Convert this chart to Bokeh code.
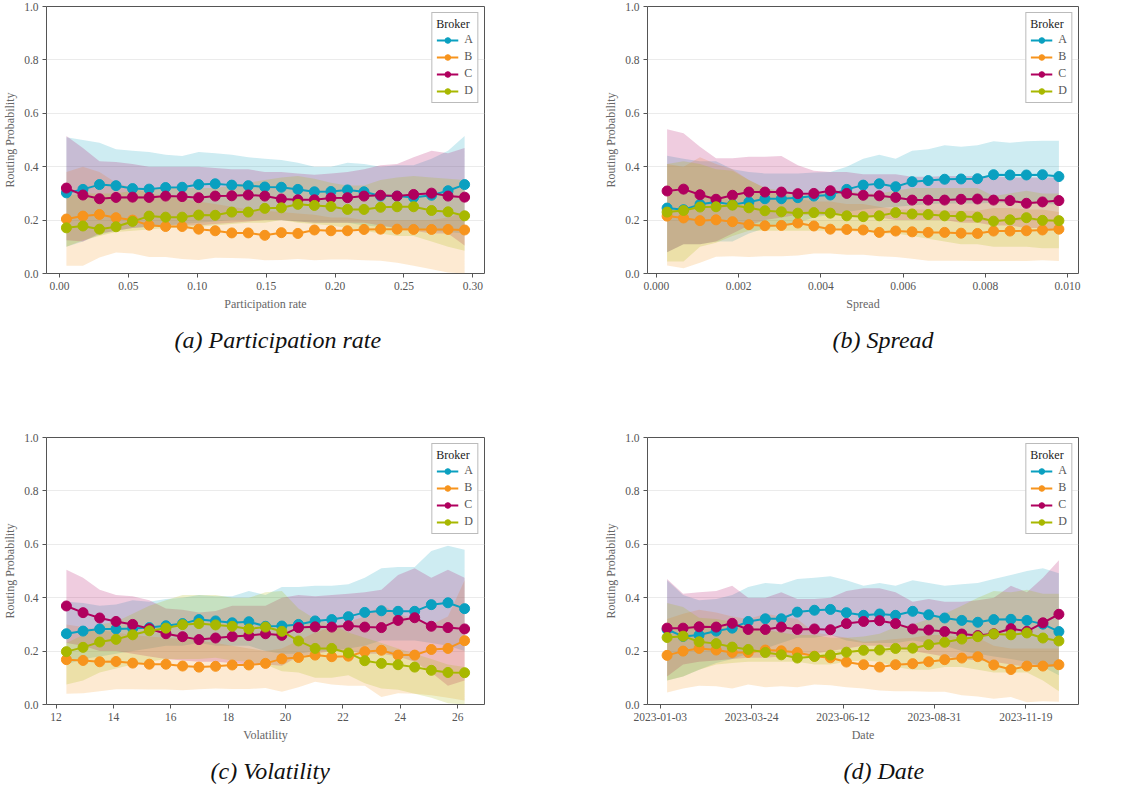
import pandas as pd
from bokeh.plotting import figure
from bokeh.layouts import column, row
from bokeh.models import FixedTicker, PrintfTickFormatter, DatetimeTickFormatter, Range1d
from bokeh.embed import file_html
from bokeh.resources import INLINE

brokers = ["A", "B", "C", "D"]
colors = {"A": "#0aa0c0", "B": "#f7941d", "C": "#b0005e", "D": "#a8b800"}
y_ticks = [0.0, 0.2, 0.4, 0.6, 0.8, 1.0]

# ---------------- (a) Participation rate ----------------
part_x = [0.005, 0.017, 0.029, 0.041, 0.053, 0.065, 0.077, 0.089, 0.101, 0.113, 0.125, 0.137,
          0.149, 0.161, 0.173, 0.185, 0.197, 0.209, 0.221, 0.233, 0.245, 0.257, 0.270, 0.282, 0.294]
part_A = [0.302, 0.315, 0.333, 0.329, 0.318, 0.316, 0.322, 0.323, 0.333, 0.336, 0.331, 0.329,
          0.324, 0.323, 0.315, 0.306, 0.307, 0.313, 0.306, 0.290, 0.290, 0.285, 0.293, 0.310, 0.333]
part_B = [0.204, 0.215, 0.221, 0.209, 0.200, 0.181, 0.176, 0.176, 0.166, 0.160, 0.152, 0.152,
          0.143, 0.153, 0.150, 0.163, 0.160, 0.160, 0.165, 0.166, 0.166, 0.165, 0.165, 0.165, 0.163]
part_C = [0.320, 0.294, 0.280, 0.285, 0.286, 0.285, 0.290, 0.288, 0.284, 0.290, 0.291, 0.294,
          0.290, 0.279, 0.276, 0.276, 0.283, 0.284, 0.290, 0.293, 0.290, 0.296, 0.301, 0.290, 0.286]
part_D = [0.171, 0.178, 0.166, 0.175, 0.195, 0.215, 0.211, 0.211, 0.219, 0.218, 0.230, 0.230,
          0.244, 0.246, 0.259, 0.255, 0.251, 0.240, 0.240, 0.248, 0.250, 0.250, 0.236, 0.231, 0.216]
part_A_hi = [0.510, 0.500, 0.490, 0.465, 0.460, 0.455, 0.445, 0.440, 0.455, 0.450, 0.445, 0.435,
             0.430, 0.425, 0.415, 0.400, 0.400, 0.415, 0.410, 0.400, 0.405, 0.405, 0.430, 0.460, 0.515]
part_A_lo = [0.100, 0.120, 0.145, 0.160, 0.170, 0.175, 0.180, 0.185, 0.190, 0.195, 0.200, 0.200,
             0.200, 0.200, 0.195, 0.190, 0.190, 0.190, 0.180, 0.175, 0.170, 0.165, 0.160, 0.155, 0.150]
part_B_hi = [0.380, 0.400, 0.380, 0.340, 0.320, 0.300, 0.290, 0.280, 0.270, 0.260, 0.250, 0.240,
             0.235, 0.230, 0.225, 0.220, 0.210, 0.210, 0.200, 0.200, 0.200, 0.200, 0.200, 0.210, 0.230]
part_B_lo = [0.029, 0.029, 0.060, 0.079, 0.075, 0.062, 0.062, 0.054, 0.051, 0.059, 0.058, 0.056,
             0.050, 0.051, 0.054, 0.050, 0.052, 0.052, 0.050, 0.048, 0.040, 0.029, 0.016, 0.004, 0.000]
part_C_hi = [0.515, 0.470, 0.420, 0.418, 0.410, 0.400, 0.400, 0.400, 0.400, 0.395, 0.390, 0.390,
             0.380, 0.380, 0.375, 0.370, 0.375, 0.380, 0.390, 0.405, 0.410, 0.435, 0.460, 0.450, 0.470]
part_C_lo = [0.125, 0.120, 0.150, 0.160, 0.170, 0.175, 0.180, 0.180, 0.180, 0.185, 0.190, 0.195,
             0.200, 0.200, 0.195, 0.190, 0.190, 0.190, 0.190, 0.180, 0.170, 0.160, 0.150, 0.150, 0.105]
part_D_hi = [0.290, 0.300, 0.300, 0.300, 0.310, 0.320, 0.320, 0.320, 0.320, 0.320, 0.330, 0.340,
             0.350, 0.360, 0.365, 0.355, 0.340, 0.330, 0.330, 0.350, 0.360, 0.365, 0.360, 0.355, 0.350]
part_D_lo = [0.100, 0.125, 0.140, 0.155, 0.160, 0.165, 0.170, 0.170, 0.175, 0.180, 0.185, 0.190,
             0.190, 0.200, 0.190, 0.185, 0.180, 0.170, 0.160, 0.150, 0.140, 0.140, 0.120, 0.100, 0.085]
part_ticks = [0.0, 0.05, 0.10, 0.15, 0.20, 0.25, 0.30]

# ---------------- (b) Spread ----------------
spread_x = [0.00026, 0.00066, 0.00106, 0.00145, 0.00185, 0.00225, 0.00264, 0.00304, 0.00344,
            0.00383, 0.00423, 0.00463, 0.00503, 0.00542, 0.00582, 0.00622, 0.00661, 0.00701,
            0.00741, 0.00781, 0.00820, 0.00860, 0.00900, 0.00939, 0.00979]
spread_A = [0.245, 0.239, 0.259, 0.268, 0.258, 0.268, 0.280, 0.280, 0.284, 0.290, 0.294, 0.315,
            0.331, 0.336, 0.325, 0.344, 0.348, 0.353, 0.354, 0.355, 0.370, 0.369, 0.369, 0.370, 0.363]
spread_B = [0.215, 0.208, 0.198, 0.201, 0.194, 0.183, 0.179, 0.180, 0.189, 0.178, 0.166, 0.165,
            0.163, 0.154, 0.159, 0.156, 0.154, 0.154, 0.151, 0.150, 0.159, 0.159, 0.160, 0.163, 0.166]
spread_C = [0.309, 0.316, 0.295, 0.278, 0.293, 0.305, 0.305, 0.305, 0.299, 0.300, 0.310, 0.300,
            0.293, 0.291, 0.285, 0.275, 0.275, 0.275, 0.278, 0.279, 0.275, 0.273, 0.263, 0.268, 0.273]
spread_D = [0.230, 0.236, 0.249, 0.250, 0.256, 0.246, 0.235, 0.231, 0.226, 0.228, 0.226, 0.216,
            0.213, 0.216, 0.228, 0.223, 0.221, 0.216, 0.214, 0.211, 0.196, 0.201, 0.209, 0.199, 0.198]
spread_A_hi = [0.441, 0.430, 0.420, 0.420, 0.390, 0.380, 0.375, 0.375, 0.375, 0.378, 0.380, 0.400,
               0.430, 0.445, 0.430, 0.460, 0.465, 0.480, 0.475, 0.480, 0.495, 0.490, 0.495, 0.497, 0.497]
spread_A_lo = [0.080, 0.110, 0.110, 0.120, 0.120, 0.150, 0.170, 0.180, 0.190, 0.210, 0.220, 0.230,
               0.240, 0.245, 0.250, 0.255, 0.260, 0.262, 0.262, 0.262, 0.265, 0.265, 0.262, 0.260, 0.258]
spread_B_hi = [0.410, 0.400, 0.435, 0.410, 0.390, 0.350, 0.320, 0.300, 0.280, 0.270, 0.270, 0.260,
               0.260, 0.250, 0.240, 0.240, 0.240, 0.235, 0.235, 0.235, 0.245, 0.245, 0.240, 0.240, 0.230]
spread_B_lo = [0.030, 0.020, 0.040, 0.063, 0.065, 0.062, 0.065, 0.065, 0.067, 0.075, 0.075, 0.070,
               0.070, 0.065, 0.062, 0.055, 0.048, 0.048, 0.048, 0.047, 0.047, 0.047, 0.047, 0.050, 0.047]
spread_C_hi = [0.540, 0.525, 0.475, 0.432, 0.432, 0.437, 0.437, 0.440, 0.405, 0.385, 0.380, 0.380,
               0.372, 0.372, 0.372, 0.362, 0.362, 0.365, 0.365, 0.365, 0.365, 0.360, 0.360, 0.360, 0.360]
spread_C_lo = [0.080, 0.110, 0.110, 0.120, 0.150, 0.180, 0.200, 0.210, 0.220, 0.220, 0.220, 0.220,
               0.210, 0.210, 0.200, 0.200, 0.200, 0.200, 0.190, 0.190, 0.180, 0.180, 0.170, 0.170, 0.160]
spread_D_hi = [0.410, 0.420, 0.410, 0.390, 0.385, 0.350, 0.320, 0.310, 0.300, 0.300, 0.310, 0.310,
               0.300, 0.300, 0.310, 0.320, 0.320, 0.320, 0.320, 0.320, 0.290, 0.300, 0.310, 0.300, 0.300]
spread_D_lo = [0.045, 0.045, 0.100, 0.115, 0.140, 0.160, 0.160, 0.160, 0.160, 0.160, 0.160, 0.160,
               0.155, 0.150, 0.150, 0.140, 0.130, 0.120, 0.110, 0.110, 0.100, 0.100, 0.100, 0.095, 0.095]
spread_ticks = [0.000, 0.002, 0.004, 0.006, 0.008, 0.010]

# ---------------- (c) Volatility ----------------
vol_x = [12.36, 12.94, 13.52, 14.09, 14.67, 15.25, 15.83, 16.41, 16.98, 17.56, 18.14, 18.72,
         19.30, 19.87, 20.45, 21.03, 21.61, 22.19, 22.76, 23.34, 23.92, 24.50, 25.08, 25.66, 26.24]
vol_A = [0.265, 0.275, 0.283, 0.283, 0.285, 0.288, 0.295, 0.303, 0.318, 0.313, 0.306, 0.310,
         0.293, 0.294, 0.300, 0.313, 0.318, 0.329, 0.345, 0.351, 0.349, 0.349, 0.374, 0.381, 0.359]
vol_B = [0.168, 0.165, 0.160, 0.161, 0.155, 0.151, 0.151, 0.144, 0.140, 0.143, 0.148, 0.148,
         0.154, 0.171, 0.176, 0.185, 0.179, 0.181, 0.198, 0.203, 0.185, 0.185, 0.206, 0.210, 0.239]
vol_C = [0.369, 0.344, 0.324, 0.311, 0.300, 0.284, 0.265, 0.254, 0.243, 0.249, 0.255, 0.258,
         0.265, 0.259, 0.288, 0.291, 0.290, 0.295, 0.290, 0.288, 0.315, 0.325, 0.293, 0.288, 0.283]
vol_D = [0.198, 0.214, 0.234, 0.244, 0.261, 0.276, 0.286, 0.299, 0.303, 0.298, 0.293, 0.283,
         0.290, 0.274, 0.238, 0.210, 0.210, 0.193, 0.164, 0.154, 0.149, 0.140, 0.128, 0.120, 0.119]
vol_A_hi = [0.385, 0.380, 0.370, 0.375, 0.390, 0.385, 0.395, 0.400, 0.410, 0.405, 0.405, 0.425,
            0.410, 0.440, 0.440, 0.445, 0.445, 0.450, 0.475, 0.510, 0.515, 0.515, 0.575, 0.595, 0.580]
vol_A_lo = [0.150, 0.170, 0.180, 0.190, 0.200, 0.210, 0.220, 0.220, 0.230, 0.220, 0.220, 0.220,
            0.200, 0.190, 0.190, 0.200, 0.200, 0.210, 0.220, 0.240, 0.240, 0.240, 0.230, 0.220, 0.200]
vol_B_hi = [0.300, 0.290, 0.280, 0.270, 0.260, 0.255, 0.250, 0.245, 0.240, 0.230, 0.220, 0.210,
            0.200, 0.210, 0.240, 0.270, 0.290, 0.310, 0.330, 0.375, 0.340, 0.320, 0.300, 0.330, 0.465]
vol_B_lo = [0.040, 0.042, 0.050, 0.057, 0.057, 0.056, 0.056, 0.053, 0.057, 0.060, 0.058, 0.058,
            0.062, 0.048, 0.065, 0.085, 0.075, 0.070, 0.070, 0.028, 0.042, 0.040, 0.035, 0.025, 0.015]
vol_C_hi = [0.505, 0.475, 0.430, 0.410, 0.405, 0.390, 0.360, 0.355, 0.345, 0.350, 0.370, 0.370,
            0.370, 0.400, 0.410, 0.405, 0.410, 0.415, 0.420, 0.430, 0.485, 0.510, 0.475, 0.505, 0.475]
vol_C_lo = [0.230, 0.220, 0.200, 0.200, 0.190, 0.180, 0.170, 0.165, 0.160, 0.160, 0.155, 0.150,
            0.150, 0.145, 0.180, 0.190, 0.200, 0.200, 0.190, 0.190, 0.180, 0.160, 0.120, 0.070, 0.090]
vol_D_hi = [0.230, 0.260, 0.300, 0.310, 0.340, 0.370, 0.390, 0.410, 0.410, 0.410, 0.400, 0.400,
            0.420, 0.425, 0.360, 0.320, 0.300, 0.270, 0.250, 0.230, 0.210, 0.190, 0.170, 0.150, 0.140]
vol_D_lo = [0.075, 0.090, 0.120, 0.135, 0.150, 0.160, 0.170, 0.170, 0.170, 0.175, 0.165, 0.160,
            0.150, 0.125, 0.120, 0.100, 0.100, 0.110, 0.080, 0.060, 0.055, 0.040, 0.025, 0.005, 0.000]
vol_ticks = [12, 14, 16, 18, 20, 22, 24, 26]

# ---------------- (d) Date ----------------
date_x = ["2023-01-09", "2023-01-23", "2023-02-06", "2023-02-21", "2023-03-07", "2023-03-21",
          "2023-04-05", "2023-04-19", "2023-05-03", "2023-05-18", "2023-06-01", "2023-06-15",
          "2023-06-30", "2023-07-14", "2023-07-28", "2023-08-12", "2023-08-26", "2023-09-09",
          "2023-09-24", "2023-10-08", "2023-10-22", "2023-11-06", "2023-11-20", "2023-12-04",
          "2023-12-18"]
date_A = [0.281, 0.255, 0.260, 0.275, 0.286, 0.311, 0.321, 0.321, 0.346, 0.353, 0.356, 0.344,
          0.334, 0.339, 0.334, 0.349, 0.336, 0.324, 0.315, 0.308, 0.318, 0.319, 0.315, 0.301, 0.273]
date_B = [0.184, 0.200, 0.210, 0.204, 0.195, 0.195, 0.204, 0.201, 0.195, 0.181, 0.175, 0.159,
          0.149, 0.140, 0.149, 0.153, 0.160, 0.168, 0.174, 0.179, 0.148, 0.131, 0.144, 0.144, 0.149]
date_C = [0.286, 0.286, 0.291, 0.290, 0.304, 0.281, 0.281, 0.290, 0.281, 0.283, 0.280, 0.303,
          0.311, 0.314, 0.303, 0.283, 0.279, 0.273, 0.264, 0.258, 0.265, 0.284, 0.274, 0.306, 0.338]
date_D = [0.251, 0.256, 0.235, 0.228, 0.215, 0.206, 0.195, 0.186, 0.174, 0.180, 0.185, 0.196,
          0.203, 0.204, 0.210, 0.211, 0.224, 0.233, 0.245, 0.254, 0.264, 0.261, 0.268, 0.249, 0.238]
date_A_hi = [0.465, 0.410, 0.390, 0.395, 0.410, 0.440, 0.455, 0.450, 0.470, 0.475, 0.480, 0.465,
             0.445, 0.455, 0.445, 0.465, 0.455, 0.445, 0.450, 0.455, 0.470, 0.485, 0.500, 0.510, 0.492]
date_A_lo = [0.090, 0.105, 0.130, 0.155, 0.170, 0.190, 0.210, 0.230, 0.250, 0.250, 0.260, 0.240,
             0.230, 0.230, 0.230, 0.240, 0.230, 0.220, 0.200, 0.190, 0.180, 0.170, 0.160, 0.140, 0.110]
date_B_hi = [0.320, 0.340, 0.355, 0.345, 0.330, 0.320, 0.340, 0.330, 0.320, 0.270, 0.260, 0.250,
             0.235, 0.240, 0.245, 0.250, 0.260, 0.260, 0.250, 0.250, 0.220, 0.210, 0.210, 0.210, 0.210]
date_B_lo = [0.045, 0.060, 0.070, 0.068, 0.060, 0.075, 0.065, 0.068, 0.065, 0.075, 0.072, 0.065,
             0.060, 0.052, 0.050, 0.050, 0.048, 0.048, 0.035, 0.030, 0.022, 0.028, 0.008, 0.012, 0.010]
date_C_hi = [0.470, 0.415, 0.420, 0.425, 0.445, 0.400, 0.400, 0.420, 0.395, 0.395, 0.400, 0.425,
             0.435, 0.435, 0.420, 0.385, 0.395, 0.385, 0.385, 0.390, 0.400, 0.445, 0.420, 0.475, 0.540]
date_C_lo = [0.105, 0.150, 0.160, 0.165, 0.170, 0.175, 0.175, 0.180, 0.180, 0.190, 0.200, 0.210,
             0.220, 0.220, 0.210, 0.200, 0.190, 0.180, 0.170, 0.165, 0.160, 0.150, 0.140, 0.140, 0.140]
date_D_hi = [0.380, 0.365, 0.325, 0.320, 0.310, 0.290, 0.280, 0.270, 0.260, 0.260, 0.250, 0.250,
             0.255, 0.265, 0.290, 0.300, 0.320, 0.340, 0.370, 0.400, 0.425, 0.420, 0.430, 0.415, 0.415]
date_D_lo = [0.090, 0.105, 0.130, 0.150, 0.155, 0.160, 0.160, 0.160, 0.160, 0.150, 0.150, 0.160,
             0.165, 0.160, 0.140, 0.130, 0.130, 0.140, 0.140, 0.130, 0.120, 0.120, 0.120, 0.090, 0.050]
date_ticks = ["2023-01-03", "2023-03-24", "2023-06-12", "2023-08-31", "2023-11-19"]

SERIF = "'Liberation Serif', 'DejaVu Serif', serif"


def make_panel(x, means, his, los, caption, xlabel, frame_w, left, right, bottom, cap_offset,
               xticks=None, xfmt=None, dates=False, xpad=0.05):
    kwargs = {}
    if dates:
        kwargs["x_axis_type"] = "datetime"
    p = figure(frame_width=frame_w, frame_height=267, min_border_left=left, min_border_right=right,
               min_border_top=6, min_border_bottom=bottom, toolbar_location=None,
               output_backend="svg", title_location="below", **kwargs)
    xmin, xmax = min(x), max(x)
    span = xmax - xmin
    p.x_range = Range1d(xmin - xpad * span, xmax + xpad * span)
    p.y_range = Range1d(0, 1)
    for b in brokers:
        p.varea(x=x, y1=los[b], y2=his[b], fill_color=colors[b], fill_alpha=0.2)
    for b in brokers:
        p.line(x, means[b], line_color=colors[b], line_width=2, legend_label=b)
        p.scatter(x, means[b], size=10, fill_color=colors[b], line_color=colors[b],
                  legend_label=b)
    # axes
    p.yaxis.ticker = FixedTicker(ticks=y_ticks)
    p.yaxis.formatter = PrintfTickFormatter(format="%.1f")
    p.xaxis.ticker = FixedTicker(ticks=xticks)
    if dates:
        fmt = "%Y-%m-%d"
        p.xaxis.formatter = DatetimeTickFormatter(days=fmt, months=fmt, years=fmt, hours=fmt,
                                                  minutes=fmt, seconds=fmt, milliseconds=fmt,
                                                  microseconds=fmt, minsec=fmt, hourmin=fmt,
                                                  context=None)
    else:
        p.xaxis.formatter = PrintfTickFormatter(format=xfmt)
    p.xaxis.axis_label = xlabel
    p.yaxis.axis_label = "Routing Probability"
    for ax in (p.xaxis[0], p.yaxis[0]):
        ax.axis_line_color = None
        ax.major_tick_line_color = "#555555"
        ax.major_tick_out = 4
        ax.major_tick_in = 0
        ax.minor_tick_line_color = None
        ax.major_label_text_font = SERIF
        ax.major_label_text_font_size = "11.5px"
        ax.major_label_text_color = "#555555"
        ax.axis_label_text_font = SERIF
        ax.axis_label_text_font_size = "12px"
        ax.axis_label_text_font_style = "normal"
        ax.axis_label_text_color = "#666666"
        ax.major_label_standoff = 4
        ax.axis_label_standoff = 4
    p.xgrid.visible = False
    p.ygrid.grid_line_color = "#e6e6e6"
    p.ygrid.grid_line_width = 0.8
    p.outline_line_color = "#555555"
    p.outline_line_width = 1
    p.background_fill_color = "white"
    p.border_fill_color = "white"
    # legend
    lg = p.legend[0]
    lg.title = "Broker"
    lg.title_text_font = SERIF
    lg.title_text_font_size = "12px"
    lg.title_text_font_style = "normal"
    lg.title_text_color = "#222222"
    lg.title_standoff = 0
    lg.label_text_font = SERIF
    lg.label_text_font_size = "12px"
    lg.label_text_color = "#555555"
    lg.location = "top_right"
    lg.margin = 6
    lg.padding = 4
    lg.spacing = 2
    lg.glyph_width = 22
    lg.glyph_height = 14
    lg.label_height = 14
    lg.label_width = 8
    lg.label_standoff = 6
    lg.border_line_color = "#777777"
    lg.border_line_width = 1
    lg.background_fill_alpha = 1
    # caption
    p.title.text = caption
    p.title.align = "left"
    p.title.offset = cap_offset
    p.title.text_font = SERIF
    p.title.text_font_style = "italic"
    p.title.text_font_size = "24px"
    p.title.text_color = "#111111"
    p.title.standoff = 22
    return p


pa = make_panel(part_x,
                {"A": part_A, "B": part_B, "C": part_C, "D": part_D},
                {"A": part_A_hi, "B": part_B_hi, "C": part_C_hi, "D": part_D_hi},
                {"A": part_A_lo, "B": part_B_lo, "C": part_C_lo, "D": part_D_lo},
                "(a) Participation rate", "Participation rate", 438, 45, 77, 158, 128,
                xticks=part_ticks, xfmt="%.2f")
pb = make_panel(spread_x,
                {"A": spread_A, "B": spread_B, "C": spread_C, "D": spread_D},
                {"A": spread_A_hi, "B": spread_B_hi, "C": spread_C_hi, "D": spread_D_hi},
                {"A": spread_A_lo, "B": spread_B_lo, "C": spread_C_lo, "D": spread_D_lo},
                "(b) Spread", "Spread", 431, 86, 51, 158, 185,
                xticks=spread_ticks, xfmt="%.3f")
pc = make_panel(vol_x,
                {"A": vol_A, "B": vol_B, "C": vol_C, "D": vol_D},
                {"A": vol_A_hi, "B": vol_B_hi, "C": vol_C_hi, "D": vol_D_hi},
                {"A": vol_A_lo, "B": vol_B_lo, "C": vol_C_lo, "D": vol_D_lo},
                "(c) Volatility", "Volatility", 438, 45, 77, 85, 164,
                xticks=vol_ticks, xfmt="%d")
date_vals = pd.to_datetime(date_x)
date_tick_ms = [pd.Timestamp(t).value / 1e6 for t in date_ticks]
pd_ = make_panel(list(date_vals),
                 {"A": date_A, "B": date_B, "C": date_C, "D": date_D},
                 {"A": date_A_hi, "B": date_B_hi, "C": date_C_hi, "D": date_D_hi},
                 {"A": date_A_lo, "B": date_B_lo, "C": date_C_lo, "D": date_D_lo},
                 "(d) Date", "Date", 431, 86, 51, 85, 196,
                 xticks=date_tick_ms, dates=True)

layout = column(row(pa, pb), row(pc, pd_))
open("out.html", "w").write(file_html(layout, INLINE))
